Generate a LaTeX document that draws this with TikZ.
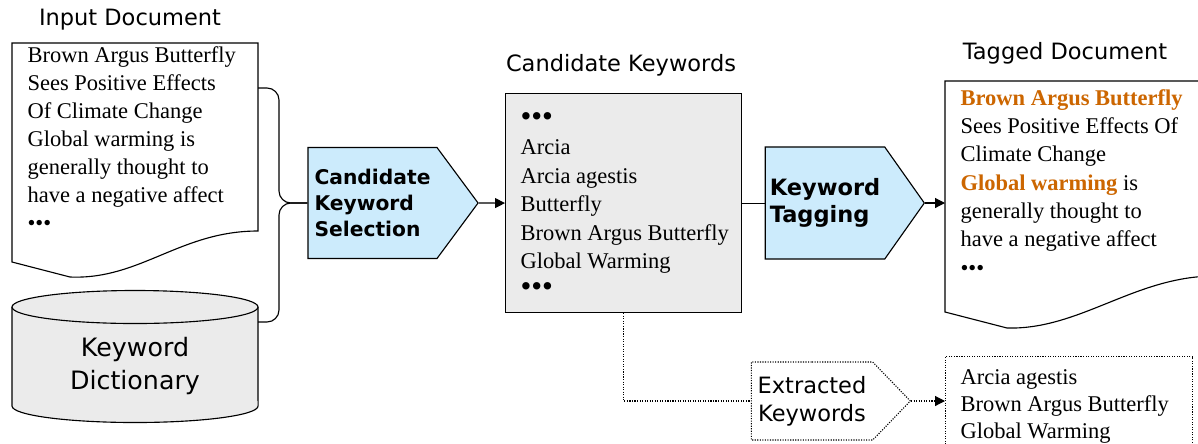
\documentclass[tikz,border=0pt]{standalone}
\usepackage{fontspec}
\setmainfont{Liberation Serif}
\setsansfont{DejaVu Sans}
\usetikzlibrary{arrows.meta,shapes.symbols}
\definecolor{procblue}{RGB}{204,235,252}
\definecolor{boxgray}{RGB}{235,235,235}
\definecolor{tagorange}{RGB}{204,102,0}

\begin{document}
\begin{tikzpicture}[x=0.025cm, y=-0.025cm, line width=0.8pt,
    txt/.style={align=left, inner sep=0pt, anchor=north west, execute at begin node=\strut},
    title/.style={font=\sffamily\fontsize{16}{19}\selectfont},
    proc/.style={signal, signal to=east, draw, fill=procblue, align=left, inner sep=0pt,
      font=\sffamily\bfseries\fontsize{14.4}{18.4}\selectfont},
    arr/.style={-{Triangle[length=7pt,width=7pt]}},
    dots/.style={densely dotted}]
    \useasboundingbox (0,0) rectangle (1198,443);
    \clip (0,0) rectangle (1198,443);

    % input side
    \node[title] (intitle) at (130,20) {Input Document};
    \draw[fill=white] (12,43) -- (258,43) -- (258,231) .. controls (180,231) and (140,280) .. (70,277) -- (12,262) -- cycle;
    \node[txt, font=\fontsize{16}{19.9}\selectfont] (indoctxt) at (27,46) {Brown Argus Butterfly\\Sees Positive Effects\\Of Climate Change\\Global warming is\\generally thought to\\have a negative affect\\•••};
    \coordinate (indoc out) at (258,88);

    \filldraw[fill=boxgray] (12,307) -- (12,406) arc[start angle=180, end angle=360, x radius=3.075cm, y radius=0.4125cm] -- (258,307);
    \filldraw[fill=boxgray] (135,307) ellipse[x radius=3.075cm, y radius=0.4125cm];
    \node[font=\sffamily\fontsize{18}{24}\selectfont, align=center] (dicttxt) at (135,366) {Keyword\\Dictionary};
    \coordinate (dict out) at (258,322);

    % selection
    \node[proc, signal pointer angle=107, minimum width=4.25cm, minimum height=2.775cm] (cks) at (372.5,203) {Candidate\\Keyword\\Selection};
    \draw[rounded corners=0.3cm] (indoc out) -- (279,88) -- (279,203) -- (cks.west);
    \draw[rounded corners=0.3cm] (dict out) -- (279,322) -- (279,203) -- (cks.west);

    % candidates
    \node[title] (candtitle) at (621,65) {Candidate Keywords};
    \node[draw, fill=boxgray, minimum width=5.9cm, minimum height=5.475cm, anchor=north west, inner sep=0pt] (cand) at (505,93) {};
    \node[txt, font=\fontsize{16}{20.2}\selectfont] (candtxt) at (520,112) {{\fontsize{22}{20.2}\selectfont •••}\\Arcia\\Arcia agestis\\Butterfly\\Brown Argus Butterfly\\Global Warming\\{\fontsize{22}{20.2}\selectfont •••}};
    \draw[arr] (cks.east) -- (cand.west);

    % tagging
    \node[proc, signal pointer angle=109.5, minimum width=3.975cm, minimum height=2.8cm,
      font=\sffamily\bfseries\fontsize{16}{19.7}\selectfont] (tag) at (825,203) {Keyword\\Tagging};
    \draw (cand.east) -- (cand.east -| tag.west);

    \node[title] (tagtitle) at (1065,53) {Tagged Document};
    \draw[fill=white] (945,81) -- (1215,81) -- (1215,276) .. controls (1135,276) and (1080,330) .. (1007,328) -- (945,312) -- cycle;
    \node[txt, font=\fontsize{16}{20.1}\selectfont] (tagtxt) at (960,89) {{\bfseries\color{tagorange}Brown Argus Butterfly}\\Sees Positive Effects Of\\Climate Change\\{\bfseries\color{tagorange}Global warming} is\\generally thought to\\have a negative affect\\•••};
    \coordinate (tdoc in) at (945,203);
    \draw[arr] (tag.east) -- (tdoc in);

    % extraction
    \node[proc, dots, fill=white, align=center, signal pointer angle=92, minimum width=3.975cm, minimum height=1.95cm,
      font=\sffamily\fontsize{16}{19.7}\selectfont] (ext) at (812,401) {Extracted\\Keywords};
    \draw[dots] (cand.south) |- (ext.west);
    \node[draw, dots, minimum width=6.175cm, minimum height=2.5cm, anchor=north west] (extr) at (945,356) {};
    \node[txt, font=\fontsize{16}{19.2}\selectfont] (extrtxt) at (960,369) {Arcia agestis\\Brown Argus Butterfly\\Global Warming};
    \draw[dots, arr] (ext.east) -- (ext.east -| extr.west);
\end{tikzpicture}
\end{document}
